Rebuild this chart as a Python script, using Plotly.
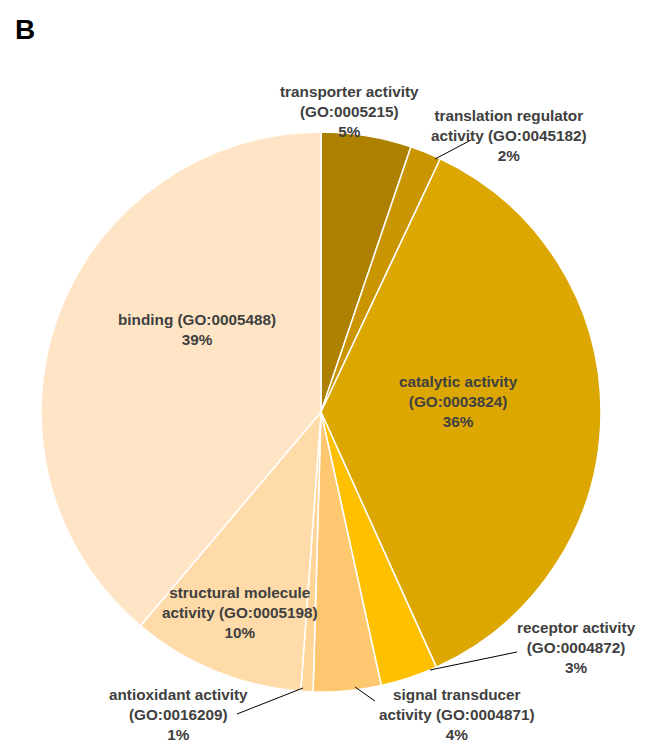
import plotly.graph_objects as go

categories = ["transporter activity (GO:0005215)",
              "translation regulator activity (GO:0045182)",
              "catalytic activity (GO:0003824)",
              "receptor activity (GO:0004872)",
              "signal transducer activity (GO:0004871)",
              "antioxidant activity (GO:0016209)",
              "structural molecule activity (GO:0005198)",
              "binding (GO:0005488)"]
values = [5.2, 1.8, 36.2, 3.3, 3.9, 0.7, 10.0, 38.8]
label_lines = [["transporter activity", "(GO:0005215)"],
               ["translation regulator", "activity (GO:0045182)"],
               ["catalytic activity", "(GO:0003824)"],
               ["receptor activity", "(GO:0004872)"],
               ["signal transducer", "activity (GO:0004871)"],
               ["antioxidant activity", "(GO:0016209)"],
               ["structural molecule", "activity (GO:0005198)"],
               ["binding (GO:0005488)"]]
colors = ["#AD8000", "#C99500", "#DCA700", "#FFC000",
          "#FFC870", "#FFD598", "#FFDBAA", "#FFE5C6"]

OFF = 8  # page body margin
W, H = 658 - OFF, 744 - OFF
# pie target in page pixels: centre (321,412), radius 280
L, T = 41 - OFF, 132 - OFF
pw, ph = 560, 560
R, B = W - L - pw, H - T - ph

def px(x, y):
    """page pixel -> paper coords"""
    return (x - OFF - L) / pw, 1 - (y - OFF - T) / ph

fig = go.Figure(go.Pie(
    labels=categories, values=values, sort=False, direction="clockwise",
    rotation=0, textinfo="none", hoverinfo="label+percent",
    marker=dict(colors=colors, line=dict(color="white", width=1.5)),
    showlegend=False))

total = sum(values)
pct = [f"{round(v / total * 100)}%" for v in values]

FONT = "Arial, Liberation Sans, sans-serif"
label_pos = [(349, 112), (509, 136), (458, 401), (576, 647),
             (457, 714), (178, 714), (240, 612), (197, 329)]
annotations = []
for lines, p, (x, y) in zip(label_lines, pct, label_pos):
    xp, yp = px(x, y)
    annotations.append(dict(
        x=xp, y=yp, xref="paper", yref="paper", showarrow=False,
        text="<br>".join(f"<b>{s}</b>" for s in lines + [p]), align="center",
        xanchor="center", yanchor="middle",
        font=dict(family=FONT, size=15.3, color="#404040")))
bx, by = px(13, 12)
annotations.append(dict(x=bx, y=by, xref="paper", yref="paper",
                        showarrow=False, text="<b>B</b>", xanchor="left",
                        yanchor="top", font=dict(family=FONT, size=28, color="black")))

leaders = [((435, 159), (471, 140)), ((430, 670), (517, 652)),
           ((355, 687), (375, 701)), ((303, 688), (237, 714))]
shapes = []
for (x0, y0), (x1, y1) in leaders:
    a, b = px(x0, y0)
    c, d = px(x1, y1)
    shapes.append(dict(type="line", xref="paper", yref="paper",
                       x0=a, y0=b, x1=c, y1=d,
                       line=dict(color="black", width=1)))

fig.update_layout(width=W, height=H, margin=dict(l=L, r=R, t=T, b=B),
                  paper_bgcolor="white", plot_bgcolor="white",
                  annotations=annotations, shapes=shapes)
fig.write_html("out.html")
